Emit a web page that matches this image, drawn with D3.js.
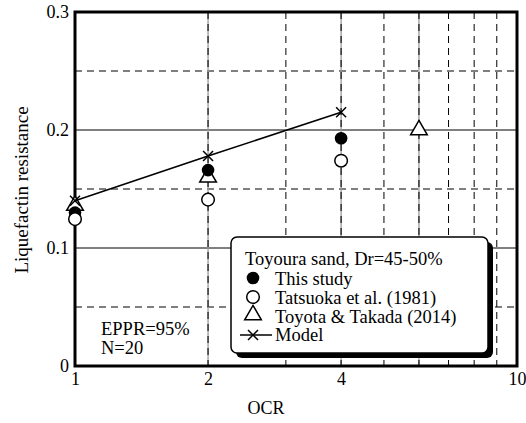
<!DOCTYPE html>
<html>
<head>
<meta charset="utf-8">
<script src="https://cdn.jsdelivr.net/npm/d3@7"></script>
<style>
  html, body { margin: 0; padding: 0; background: #fff; }
  svg text { font-family: "Liberation Serif", Tinos, "Times New Roman", serif; fill: #000; }
</style>
</head>
<body>
<svg id="chart" width="526" height="423"></svg>
<script>
// OCR values and liquefaction resistance for each data source
const thisStudyOCR = [1, 2, 4];
const thisStudyVal = [0.130, 0.166, 0.193];
const tatsuokaOCR = [1, 2, 4];
const tatsuokaVal = [0.1245, 0.141, 0.174];
const toyotaOCR = [1, 2, 6];
const toyotaVal = [0.136, 0.160, 0.200];
const modelOCR = [1, 2, 4];
const modelVal = [0.140, 0.178, 0.215];

const xTickValues = [1, 2, 4, 10];
const yTickValues = [0, 0.1, 0.2, 0.3];
const xSolidGrid = [2, 4, 6];
const xDashGrid = [3, 5, 7, 8, 9];
const ySolidGrid = [0.1, 0.2];
const yDashGrid = [0.05, 0.15, 0.25];

const legendTitle = "Toyoura sand, Dr=45-50%";
const legendLabels = ["This study", "Tatsuoka et al. (1981)", "Toyota & Takada (2014)", "Model"];
const noteLines = ["EPPR=95%", "N=20"];

const svg = d3.select("#chart");
const plotL = 75, plotR = 517, plotT = 12, plotB = 366;

const x = d3.scaleLog().domain([1, 10]).range([plotL, plotR]);
const y = d3.scaleLinear().domain([0, 0.3]).range([plotB, plotT]);

const grid = svg.append("g");
// horizontal grid
grid.selectAll(".hs").data(ySolidGrid).join("line")
  .attr("x1", plotL).attr("x2", plotR)
  .attr("y1", d => y(d)).attr("y2", d => y(d))
  .attr("stroke", "#000").attr("stroke-width", 1);
grid.selectAll(".hd").data(yDashGrid).join("line")
  .attr("x1", plotL).attr("x2", plotR)
  .attr("y1", d => y(d)).attr("y2", d => y(d))
  .attr("stroke", "#000").attr("stroke-width", 1)
  .attr("stroke-dasharray", "7,5");
// vertical grid: grey solid under dark dashes at 2, 4, 6
grid.selectAll(".vs").data(xSolidGrid).join("line")
  .attr("x1", d => x(d)).attr("x2", d => x(d))
  .attr("y1", plotT).attr("y2", plotB)
  .attr("stroke", "#999").attr("stroke-width", 1.3);
grid.selectAll(".vsd").data(xSolidGrid).join("line")
  .attr("x1", d => x(d)).attr("x2", d => x(d))
  .attr("y1", plotT).attr("y2", plotB)
  .attr("stroke", "#222").attr("stroke-width", 1.3)
  .attr("stroke-dasharray", "7,5");
grid.selectAll(".vd").data(xDashGrid).join("line")
  .attr("x1", d => x(d)).attr("x2", d => x(d))
  .attr("y1", plotT).attr("y2", plotB)
  .attr("stroke", "#000").attr("stroke-width", 1)
  .attr("stroke-dasharray", "7,5");

// axes
const xAxis = d3.axisBottom(x).tickValues(xTickValues).tickFormat(d3.format("d")).tickSize(0).tickPadding(6);
const yAxis = d3.axisLeft(y).tickValues(yTickValues).tickFormat(d => d === 0 ? "0" : d3.format(".1f")(d)).tickSize(0).tickPadding(6);

svg.append("g").attr("transform", `translate(0,${plotB})`).call(xAxis)
  .attr("font-family", null).attr("font-size", 18)
  .call(g => g.select(".domain").remove());
svg.append("g").attr("transform", `translate(${plotL},0)`).call(yAxis)
  .attr("font-family", null).attr("font-size", 18)
  .call(g => g.select(".domain").remove());

// frame
svg.append("rect").attr("x", plotL).attr("y", plotT)
  .attr("width", plotR - plotL).attr("height", plotB - plotT)
  .attr("fill", "none").attr("stroke", "#000").attr("stroke-width", 3);

// axis titles
svg.append("text").attr("x", 266).attr("y", 414)
  .attr("text-anchor", "middle").attr("font-size", 18).text("OCR");
svg.append("text").attr("transform", `translate(28,190) rotate(-90)`)
  .attr("text-anchor", "middle").attr("font-size", 19).text("Liquefactin resistance");

// markers
const circleR = 6.3;
function drawFilled(g, cx, cy) {
  g.append("circle").attr("cx", cx).attr("cy", cy).attr("r", circleR).attr("fill", "#000");
}
function drawOpen(g, cx, cy) {
  g.append("circle").attr("cx", cx).attr("cy", cy).attr("r", circleR)
    .attr("fill", "#fff").attr("stroke", "#000").attr("stroke-width", 1.5);
}
const triSymbol = d3.symbol().type(d3.symbolTriangle).size(120);
function drawTri(g, cx, cy) {
  g.append("path").attr("d", triSymbol()).attr("transform", `translate(${cx},${cy})`)
    .attr("fill", "#fff").attr("stroke", "#000").attr("stroke-width", 1.5);
}
function drawCross(g, cx, cy) {
  const s = 5;
  g.append("path").attr("d", `M${cx - s},${cy - s}L${cx + s},${cy + s}M${cx - s},${cy + s}L${cx + s},${cy - s}`)
    .attr("stroke", "#000").attr("stroke-width", 1.5).attr("fill", "none");
}

const marks = svg.append("g");
toyotaOCR.forEach((o, i) => drawTri(marks, x(o), y(toyotaVal[i])));
thisStudyOCR.forEach((o, i) => drawFilled(marks, x(o), y(thisStudyVal[i])));
tatsuokaOCR.forEach((o, i) => drawOpen(marks, x(o), y(tatsuokaVal[i])));

const line = d3.line().x(d => x(d[0])).y(d => y(d[1]));
marks.append("path").datum(modelOCR.map((o, i) => [o, modelVal[i]]))
  .attr("d", line).attr("fill", "none").attr("stroke", "#000").attr("stroke-width", 1.6);
modelOCR.forEach((o, i) => drawCross(marks, x(o), y(modelVal[i])));

// note
const note = svg.append("text").attr("font-size", 18.5);
noteLines.forEach((t, i) => note.append("tspan").attr("x", 101).attr("y", 335 + i * 19).text(t));

// legend
const lg = svg.append("g");
const lx = 231, ly = 237, lw = 257, lh = 116;
lg.append("rect").attr("x", lx + 5).attr("y", ly + 5).attr("width", lw).attr("height", lh)
  .attr("rx", 6).attr("fill", "#000");
lg.append("rect").attr("x", lx).attr("y", ly).attr("width", lw).attr("height", lh)
  .attr("rx", 6).attr("fill", "#fff").attr("stroke", "#000").attr("stroke-width", 1.5);
lg.append("text").attr("x", 245).attr("y", 265).attr("font-size", 18.5).text(legendTitle);
const symY = [278, 297, 315, 335];
const textY = [285, 304, 323, 341];
const symX = 253, textX = 275;
drawFilled(lg, symX, symY[0]);
drawOpen(lg, symX, symY[1]);
drawTri(lg, symX, symY[2]);
lg.append("line").attr("x1", 240).attr("x2", 272).attr("y1", symY[3]).attr("y2", symY[3])
  .attr("stroke", "#000").attr("stroke-width", 1.5);
drawCross(lg, symX, symY[3]);
legendLabels.forEach((t, i) => lg.append("text").attr("x", textX).attr("y", textY[i])
  .attr("font-size", 18.5).text(t));
</script>
</body>
</html>
